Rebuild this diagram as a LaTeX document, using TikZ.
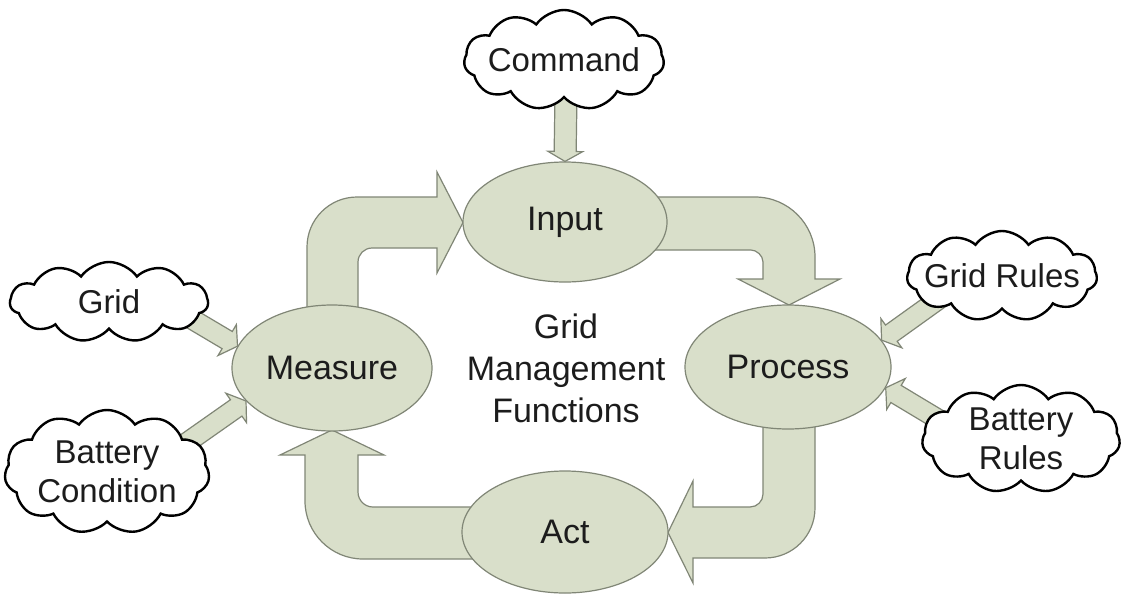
\documentclass[tikz,border=0pt]{standalone}
\usepackage{fontspec}
\setmainfont{Liberation Sans}
\usetikzlibrary{shapes.geometric,shapes.symbols,calc}
\definecolor{sage}{RGB}{217,223,202}
\definecolor{sageline}{RGB}{128,134,118}
\definecolor{txt}{RGB}{28,28,28}
% straight block arrow: tail, tip, shaft half width, head half width, head length
\newcommand\blockarr[5]{%
  \coordinate (ba-base) at ($(#2)!#5!(#1)$);
  \filldraw[blockarrow]
    ($(#1)!#3!90:(#2)$) -- ($(ba-base)!#3!90:(#2)$) -- ($(ba-base)!#4!90:(#2)$)
    -- (#2) -- ($(ba-base)!#4!-90:(#2)$) -- ($(ba-base)!#3!-90:(#2)$)
    -- ($(#1)!#3!-90:(#2)$) -- cycle;}
\tikzset{
  blockarrow/.style={fill=sage, draw=sageline, line width=1.2pt, line join=miter},
  stage/.style={ellipse, fill=sage, draw=sageline, line width=1.2pt, inner sep=0pt,
    text=txt, font=\fontsize{34}{40}\selectfont},
  cloudtext/.style={align=center, text=txt, inner sep=0pt, font=\fontsize{33}{39}\selectfont},
  cloudbox/.style={cloud, cloud puffs=11, cloud puff arc=110, draw=black, line width=2.4pt,
    fill=white, inner sep=0pt, label={[cloudtext]center:#1}},
  centertext/.style={align=center, text=txt, font=\fontsize{34}{42}\selectfont}
}
\begin{document}
\begin{tikzpicture}[x=1pt, y=-1pt]
\useasboundingbox (0,0) rectangle (1121,595);
\fill[white] (0,0) rectangle (1121,595);

% big bent arrows
\filldraw[blockarrow] (307,330) -- (307,247) .. controls (307,219.4) and (329.4,197) .. (357,197)
  -- (437,197) -- (437,172) -- (463,222.5) -- (437,273) -- (437,248) -- (372,248)
  .. controls (364.3,248) and (358,254.3) .. (358,262) -- (358,330) -- cycle;
\filldraw[blockarrow] (640,197) -- (755,197) .. controls (788.1,197) and (815,223.9) .. (815,257)
  -- (815,279) -- (840,279) -- (789,305) -- (738,279) -- (763,279) -- (763,262)
  .. controls (763,255.4) and (756.4,250) .. (751,250) -- (640,250) -- cycle;
\filldraw[blockarrow] (815,400) -- (815,508) .. controls (815,535.6) and (792.6,558) .. (765,558)
  -- (693,558) -- (693,583) -- (668,532.5) -- (693,481) -- (693,507) -- (750,507)
  .. controls (757.2,507) and (763,501.2) .. (763,494) -- (763,400) -- cycle;
\filldraw[blockarrow] (480,507) -- (373,507) .. controls (364.7,507) and (358,500.3) .. (358,492)
  -- (358,455) -- (384,455) -- (332,430) -- (280,455) -- (305,455) -- (305,501)
  .. controls (305,533) and (331,559) .. (363,559) -- (480,559) -- cycle;

% stages
\node[stage, minimum width=204pt, minimum height=120pt] (input) at (565,222) {Input};
\node[stage, minimum width=200pt, minimum height=126pt] (measure) at (332,368) {Measure};
\node[stage, minimum width=206pt, minimum height=124pt] (process) at (788,367) {Process};
\node[stage, minimum width=206pt, minimum height=122pt] (act) at (565,532) {Act};
\node[centertext] (title) at (566,368) {Grid\\Management\\Functions};

% small arrows
\coordinate (t-cmd) at (566,95);
\coordinate (t-grid) at (190,318);
\coordinate (t-bc) at (182,446);
\coordinate (t-gr) at (939,299);
\coordinate (t-br) at (946,424);
\blockarr{t-cmd}{input.north}{11pt}{17.5pt}{10pt}
\blockarr{t-grid}{measure.167}{10pt}{18pt}{12pt}
\blockarr{t-bc}{measure.201}{10pt}{18pt}{12pt}
\blockarr{t-gr}{process.16}{10pt}{18pt}{12pt}
\blockarr{t-br}{process.-12}{10pt}{18pt}{12pt}

% clouds
\node[cloudbox={Command}, minimum width=200pt, minimum height=100pt, aspect=2] (command) at (564,60) {};
\node[cloudbox={Grid}, minimum width=198pt, minimum height=80pt, aspect=2.5] (grid) at (109,302) {};
\node[cloudbox={Battery\\Condition}, minimum width=205pt, minimum height=124pt, aspect=1.7] (battcond) at (107,472) {};
\node[cloudbox={Grid Rules}, minimum width=190pt, minimum height=90pt, aspect=2.1] (gridrules) at (1002,276) {};
\node[cloudbox={Battery\\Rules}, minimum width=198pt, minimum height=108pt, aspect=1.85] (battrules) at (1021,439) {};
\end{tikzpicture}
\end{document}
